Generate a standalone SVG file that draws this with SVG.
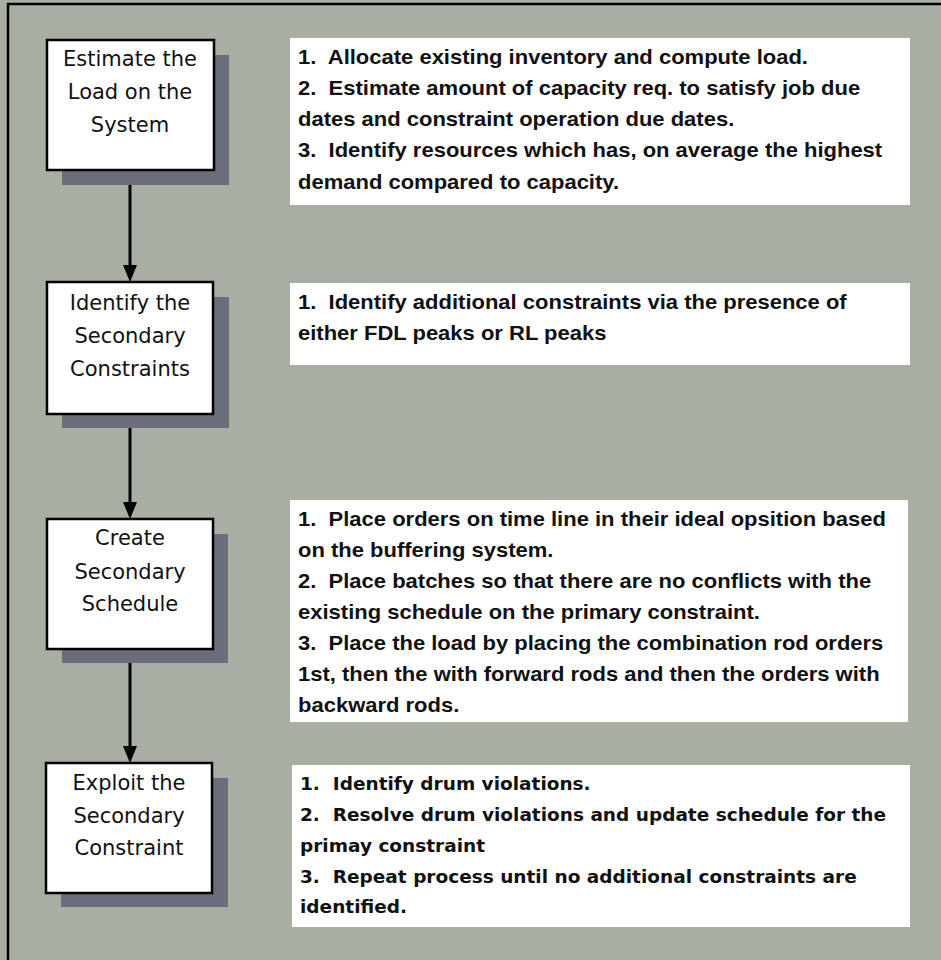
<svg xmlns="http://www.w3.org/2000/svg" width="941" height="960" viewBox="0 0 941 960">
  <style>
    .bg { fill: #a9aea2; }
    .frame { fill: none; stroke: #000; stroke-width: 2.5; }
    .step { fill: #fff; stroke: #000; stroke-width: 2.5; }
    .shadow { fill: #6a6e7b; }
    .note { fill: #fff; }
    .link { stroke: #000; stroke-width: 3; fill: none; }
    .head { fill: #000; }
    .label { font-family: "DejaVu Sans", Verdana, sans-serif; font-size: 21px; fill: #111; text-anchor: middle; }
    .desc { font-family: "Liberation Sans", Arial, sans-serif; font-weight: bold; font-size: 20px; fill: #111; white-space: pre; }
    .desc4 { font-family: "DejaVu Sans", Verdana, sans-serif; font-weight: bold; font-size: 18.5px; fill: #111; white-space: pre; }
  </style>

  <!-- panel background and frame -->
  <rect class="bg" x="0" y="0" width="941" height="960"/>
  <path class="frame" d="M8,960 L8,4 L941,4"/>

  <!-- connectors -->
  <g id="connectors">
    <line class="link" x1="130" y1="171" x2="130" y2="266"/>
    <path class="head" d="M123,265 L137,265 L130,282 Z"/>
    <line class="link" x1="130" y1="415" x2="130" y2="503"/>
    <path class="head" d="M123,502 L137,502 L130,519 Z"/>
    <line class="link" x1="130" y1="650" x2="130" y2="747"/>
    <path class="head" d="M123,746 L137,746 L130,763 Z"/>
  </g>

  <!-- step 1 -->
  <g id="step-estimate-load">
    <rect class="shadow" x="62" y="55" width="167" height="130"/>
    <rect class="step" x="47" y="40" width="167" height="130"/>
    <text class="label" x="130" y="66">Estimate the</text>
    <text class="label" x="130" y="99">Load on the</text>
    <text class="label" x="130" y="132">System</text>
  </g>
  <g id="note-estimate-load">
    <rect class="note" x="290" y="38" width="620" height="167"/>
    <g transform="translate(298,0) scale(1.1,1)">
      <text class="desc" x="0" y="64">1.  Allocate existing inventory and compute load.</text>
      <text class="desc" x="0" y="95">2.  Estimate amount of capacity req. to satisfy job due</text>
      <text class="desc" x="0" y="126">dates and constraint operation due dates.</text>
      <text class="desc" x="0" y="157">3.  Identify resources which has, on average the highest</text>
      <text class="desc" x="0" y="189">demand compared to capacity.</text>
    </g>
  </g>

  <!-- step 2 -->
  <g id="step-identify-constraints">
    <rect class="shadow" x="62" y="297" width="167" height="131"/>
    <rect class="step" x="47" y="282" width="166" height="132"/>
    <text class="label" x="130" y="310">Identify the</text>
    <text class="label" x="130" y="343">Secondary</text>
    <text class="label" x="130" y="376">Constraints</text>
  </g>
  <g id="note-identify-constraints">
    <rect class="note" x="290" y="283" width="620" height="82"/>
    <g transform="translate(298,0) scale(1.1,1)">
      <text class="desc" x="0" y="309">1.  Identify additional constraints via the presence of</text>
      <text class="desc" x="0" y="340">either FDL peaks or RL peaks</text>
    </g>
  </g>

  <!-- step 3 -->
  <g id="step-create-schedule">
    <rect class="shadow" x="62" y="534" width="166" height="129"/>
    <rect class="step" x="47" y="519" width="166" height="130"/>
    <text class="label" x="130" y="545">Create</text>
    <text class="label" x="130" y="579">Secondary</text>
    <text class="label" x="130" y="611">Schedule</text>
  </g>
  <g id="note-create-schedule">
    <rect class="note" x="290" y="500" width="618" height="222"/>
    <g transform="translate(298,0) scale(1.1,1)">
      <text class="desc" x="0" y="526">1.  Place orders on time line in their ideal opsition based</text>
      <text class="desc" x="0" y="557">on the buffering system.</text>
      <text class="desc" x="0" y="588">2.  Place batches so that there are no conflicts with the</text>
      <text class="desc" x="0" y="619">existing schedule on the primary constraint.</text>
      <text class="desc" x="0" y="650">3.  Place the load by placing the combination rod orders</text>
      <text class="desc" x="0" y="681">1st, then the with forward rods and then the orders with</text>
      <text class="desc" x="0" y="712">backward rods.</text>
    </g>
  </g>

  <!-- step 4 -->
  <g id="step-exploit-constraint">
    <rect class="shadow" x="61" y="778" width="167" height="129"/>
    <rect class="step" x="46" y="763" width="166" height="130"/>
    <text class="label" x="129" y="790">Exploit the</text>
    <text class="label" x="129" y="823">Secondary</text>
    <text class="label" x="129" y="855">Constraint</text>
  </g>
  <g id="note-exploit-constraint">
    <rect class="note" x="292" y="765" width="618" height="162"/>
    <text class="desc4" x="300" y="790">1.  Identify drum violations.</text>
    <text class="desc4" x="300" y="821">2.  Resolve drum violations and update schedule for the</text>
    <text class="desc4" x="300" y="852">primay constraint</text>
    <text class="desc4" x="300" y="883">3.  Repeat process until no additional constraints are</text>
    <text class="desc4" x="300" y="913">identified.</text>
  </g>
</svg>
